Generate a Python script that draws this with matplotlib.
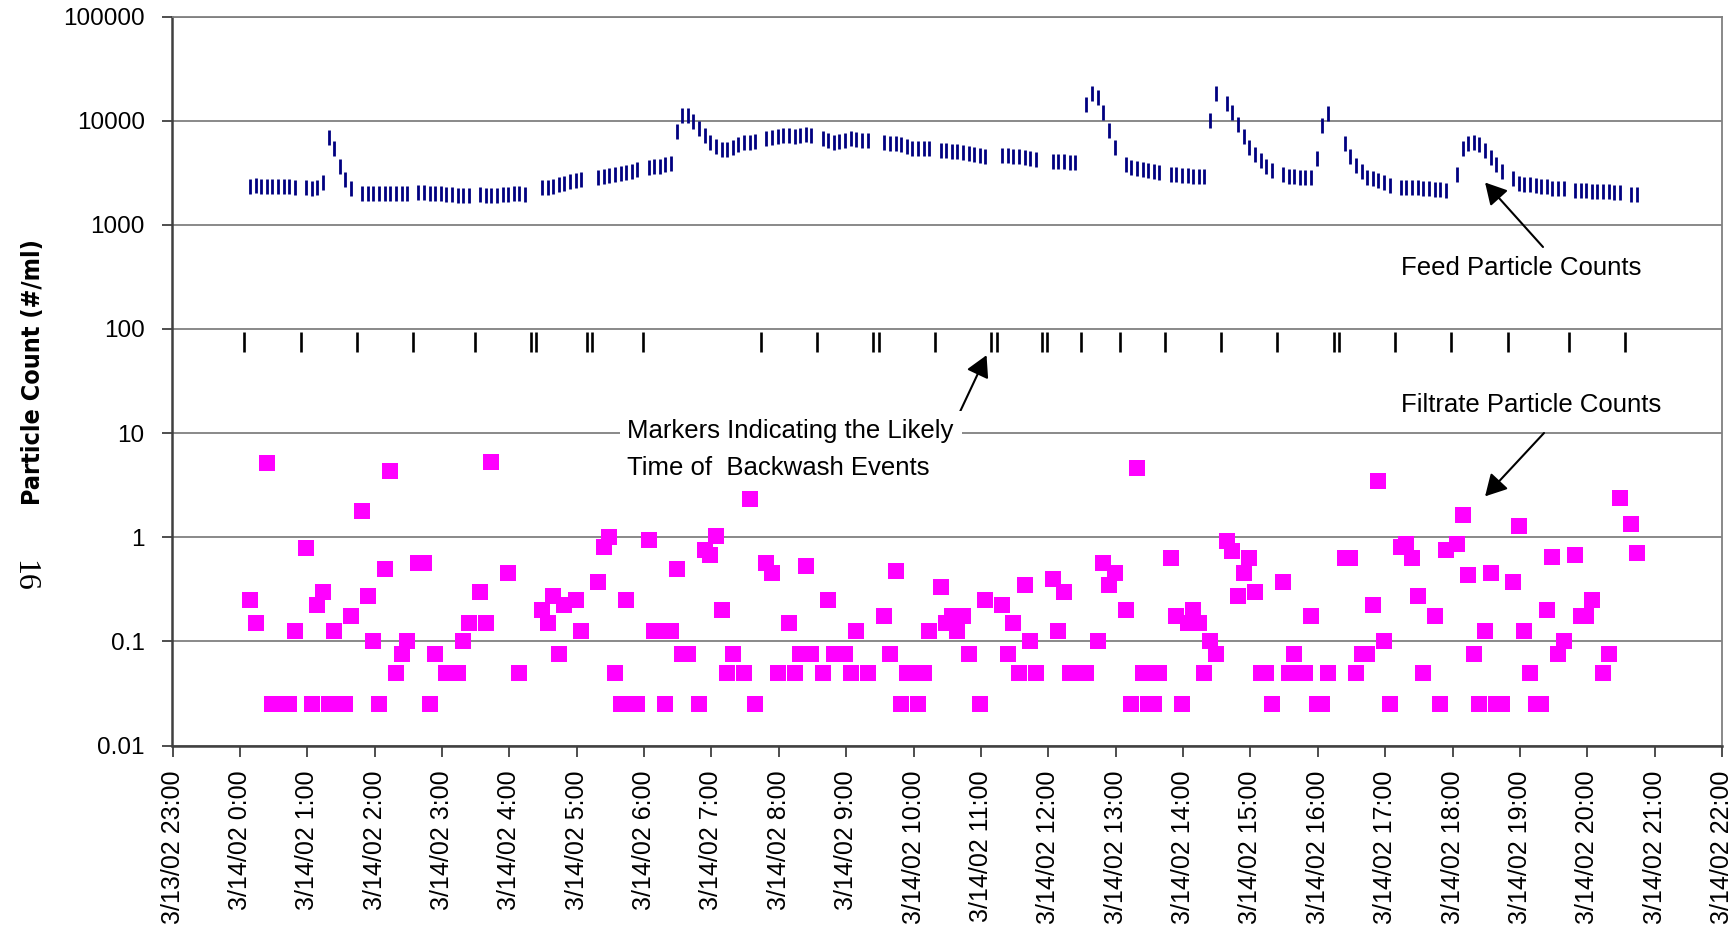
"""
Feed / filtrate particle counts with likely backwash times, 3/14/02.
Output: out.png
"""
import datetime as dt

import matplotlib
matplotlib.use("Agg")
import matplotlib.pyplot as plt
import matplotlib.dates as mdates
import numpy as np
from matplotlib import font_manager

plt.rcParams['font.family'] = ['Liberation Sans', 'DejaVu Sans']

# ---- data (times in minutes after 3/14/02 0:00, 5-min sampling) ----
# feed counts: (start minute, consecutive 5-min values)
feed_segments = [
    (9, [2380, 2400, 2380, 2370, 2360, 2340, 2340, 2350, 2320]),
    (59, [2300, 2280, 2290, 2600, 7030, 5470, 3670, 2740, 2270]),
    (109, [2040, 2020, 2020, 2020, 2020, 2020, 2020, 2020, 2010]),
    (159, [2050, 2050, 2040, 2020, 2010, 1990, 1990, 1950, 1950, 1950]),
    (214, [1960, 1940, 1930, 1945, 1975, 1990, 2020, 2005, 1975]),
    (269, [2310, 2330, 2380, 2480, 2540, 2640, 2700, 2740]),
    (319, [2900, 2960, 3040, 3080, 3130, 3220, 3290, 3440]),
    (364, [3620, 3640, 3680, 3810, 3900, 8020, 11400, 11400, 9960, 8600,
           7260, 6270, 5670, 5350, 5370, 5640, 6040, 6250, 6250, 6380]),
    (469, [6820, 6920, 7100, 7310, 7290, 7180, 7260, 7430, 7310]),
    (519, [6800, 6550, 6310, 6360, 6550, 6770, 6740, 6570, 6570]),
    (574, [6250, 6150, 6150, 5930, 5740, 5490, 5430, 5430, 5460]),
    (624, [5270, 5180, 5150, 5120, 5050, 4900, 4760, 4670, 4550]),
    (679, [4670, 4670, 4630, 4570, 4470, 4350, 4250]),
    (724, [4100, 4100, 4090, 4050, 4040]),
    (754, [14600, 18400, 16900, 12100, 8140, 5600]),
    (789, [3830, 3600, 3490, 3430, 3340, 3260, 3190]),
    (829, [3070, 3070, 3030, 3030, 2930, 2920, 2920, 10200, 18400]),
    (879, [14900, 12000, 9260, 7160, 5610, 4770, 4170, 3690, 3390]),
    (929, [3050, 2960, 2920, 2850, 2850, 2850, 4350, 9060, 11970]),
    (984, [6080, 4600, 3760, 3260, 2890, 2800, 2670, 2590, 2440]),
    (1034, [2320, 2310, 2310, 2300, 2250, 2240, 2210, 2190, 2150]),
    (1084, [3100, 5530, 6110, 6270, 5950, 5210, 4500, 3880, 3300]),
    (1134, [2830, 2550, 2490, 2450, 2410, 2350, 2340, 2280, 2260, 2240]),
    (1189, [2160, 2160, 2150, 2120, 2120, 2120, 2110, 2080, 2050]),
    (1239, [1980, 1980]),
]

# likely backwash events
backwash_min = [4, 54, 104, 154, 209, 259, 264, 309, 314, 359, 464, 514,
                564, 569, 619, 669, 674, 714, 719, 749, 784, 824, 874, 924,
                974, 979, 1029, 1079, 1129, 1184, 1234]
backwash_level = 75

# filtrate counts (zero readings are not shown on the log axis)
filtrate_min = [
    9, 14, 24, 29, 34, 39, 44, 49, 59, 64, 69, 74, 79, 84, 89, 94, 99,
    109, 114, 119, 124, 129, 134, 139, 144, 149, 159, 164, 169, 174, 184,
    189, 194, 199, 204, 214, 219, 224, 239, 249, 269, 274, 279, 284, 289,
    299, 304, 319, 324, 329, 334, 339, 344, 349, 354, 364, 369, 374, 379,
    384, 389, 394, 399, 409, 414, 419, 424, 429, 434, 439, 449, 454, 459,
    469, 474, 479, 489, 494, 499, 504, 509, 519, 524, 529, 534, 539, 544,
    549, 559, 574, 579, 584, 589, 594, 599, 604, 609, 614, 624, 629, 634,
    639, 644, 649, 659, 664, 679, 684, 689, 694, 699, 704, 709, 724, 729,
    734, 739, 744, 754, 764, 769, 774, 779, 789, 794, 799, 804, 809, 814,
    819, 829, 834, 839, 844, 849, 854, 859, 864, 869, 879, 884, 889, 894,
    899, 904, 909, 914, 919, 929, 934, 939, 944, 949, 954, 959, 964, 969,
    984, 989, 994, 999, 1004, 1009, 1014, 1019, 1024, 1034, 1039, 1044,
    1049, 1054, 1064, 1069, 1074, 1084, 1089, 1094, 1099, 1104, 1109, 1114,
    1119, 1124, 1134, 1139, 1144, 1149, 1154, 1159, 1164, 1169, 1174, 1179,
    1189, 1194, 1199, 1204, 1214, 1219, 1229, 1239, 1244,
]
filtrate_val = [
    0.25, 0.15, 5.2, 0.025, 0.025, 0.025, 0.025, 0.125, 0.78, 0.025, 0.225,
    0.30, 0.025, 0.125, 0.025, 0.025, 0.175,
    1.8, 0.275, 0.1, 0.025, 0.5, 4.3, 0.05, 0.075, 0.1, 0.57, 0.57, 0.025,
    0.075, 0.05,
    0.05, 0.05, 0.1, 0.15, 0.30, 0.15, 5.3, 0.45, 0.05, 0.2, 0.15, 0.275,
    0.075, 0.225,
    0.25, 0.125, 0.37, 0.8, 1.0, 0.05, 0.025, 0.25, 0.025, 0.025, 0.95,
    0.125, 0.125, 0.025,
    0.125, 0.5, 0.075, 0.075, 0.025, 0.75, 0.675, 1.03, 0.2, 0.05, 0.075,
    0.05, 2.33, 0.025,
    0.57, 0.45, 0.05, 0.15, 0.05, 0.075, 0.53, 0.075, 0.05, 0.25, 0.075,
    0.075, 0.075, 0.05,
    0.125, 0.05, 0.175, 0.075, 0.47, 0.025, 0.05, 0.05, 0.025, 0.05, 0.125,
    0.33, 0.15, 0.175,
    0.125, 0.175, 0.075, 0.025, 0.25, 0.225, 0.075, 0.15, 0.05, 0.35, 0.1,
    0.05, 0.40, 0.125,
    0.30, 0.05, 0.05, 0.05, 0.1, 0.56, 0.35, 0.45, 0.2, 0.025, 4.6, 0.05,
    0.025, 0.025,
    0.05, 0.63, 0.175, 0.025, 0.15, 0.2, 0.15, 0.05, 0.1, 0.075, 0.93, 0.73,
    0.275, 0.45,
    0.63, 0.30, 0.05, 0.05, 0.025, 0.37, 0.05, 0.075, 0.05, 0.05, 0.175,
    0.025, 0.025, 0.05,
    0.63, 0.63, 0.05, 0.075, 0.075, 0.225, 3.5, 0.1, 0.025, 0.81, 0.87, 0.63,
    0.275, 0.05, 0.175, 0.025, 0.75, 0.86, 1.64, 0.43, 0.075, 0.025, 0.125,
    0.45,
    0.025, 0.025, 0.37, 1.28, 0.125, 0.05, 0.025, 0.025, 0.2, 0.65, 0.075,
    0.1,
    0.675, 0.175, 0.175, 0.25, 0.05, 0.075, 2.39, 1.35, 0.70,
]

y_ticks = [0.01, 0.1, 1, 10, 100, 1000, 10000, 100000]
y_tick_labels = ["0.01", "0.1", "1", "10", "100", "1000", "10000", "100000"]
x_start_min, x_end_min = -60, 1320      # 3/13/02 23:00 .. 3/14/02 22:00

base = dt.datetime(2002, 3, 14)
base_num = mdates.date2num(base)


def to_x(minutes):
    return base_num + np.asarray(minutes, dtype=float) / 1440.0


W, H = 1733, 931


def fx(px):
    return px / W


def fy(py):
    return 1 - py / H


fig = plt.figure(figsize=(W / 100, H / 100), dpi=100)
ax = fig.add_axes([fx(172.5), fy(745.5), (1722 - 172.5) / W, (745.5 - 16.6) / H])

# feed: navy dashes
for start, vals in feed_segments:
    t = start + 5 * np.arange(len(vals))
    ax.plot(to_x(t), vals, ls="none", marker="|", ms=10.8, mew=2.0,
            color="#000080", zorder=3)

# backwash markers
ax.plot(to_x(backwash_min), [backwash_level] * len(backwash_min), ls="none",
        marker="|", ms=14.8, mew=1.9, color="black", zorder=3)

# filtrate: magenta squares
ax.plot(to_x(filtrate_min), filtrate_val, ls="none", marker="s", ms=11.2,
        mew=0, color="#FF00FF", zorder=3)

ax.set_yscale("log")
ax.set_ylim(0.01, 100000)
ax.set_yticks(y_ticks)
ax.set_yticklabels(y_tick_labels)
ax.yaxis.set_minor_locator(matplotlib.ticker.NullLocator())
ax.set_xlim(to_x(x_start_min), to_x(x_end_min))

hour_ticks = np.arange(x_start_min, x_end_min + 1, 60)
hour_dates = [base + dt.timedelta(minutes=int(m)) for m in hour_ticks]
ax.set_xticks(to_x(hour_ticks))
ax.set_xticklabels([f"{d.month}/{d.day}/{d:%y} {d.hour}:{d:%M}" for d in hour_dates])

ax.tick_params(axis="y", direction="out", length=7, width=1.3, pad=13,
               labelsize=17.5, color="#404040")
ax.tick_params(axis="x", direction="out", length=8, width=1.3, pad=10,
               labelsize=18, rotation=90, color="#404040")

ax.grid(axis="y", color="#808080", lw=1.3, zorder=0)
ax.set_axisbelow(True)
for s in ["top", "right"]:
    ax.spines[s].set_color("#808080")
    ax.spines[s].set_linewidth(1.3)
for s in ["left", "bottom"]:
    ax.spines[s].set_color("#404040")
    ax.spines[s].set_linewidth(1.8)

# y label: a narrow bold face if one is installed
label_font = font_manager.FontProperties(family="Liberation Sans", weight="bold", size=16)
for f in font_manager.fontManager.ttflist:
    w = f.weight if isinstance(f.weight, int) else font_manager.weight_dict.get(f.weight, 400)
    if ("Narrow" in f.name or "ondensed" in f.fname) and w >= 600:
        label_font = font_manager.FontProperties(fname=f.fname, size=18)
        break
fig.text(fx(33), fy(372), "Particle Count (#/ml)", rotation=90,
         ha="center", va="center", fontproperties=label_font)

# page number of the source report, printed sideways
fig.text(fx(24), fy(576), "16", rotation=-90, ha="center", va="center",
         family="Liberation Serif", fontsize=23)

# annotations
arrow = dict(arrowstyle="-|>,head_length=0.65,head_width=0.36", color="black",
             lw=1.5, mutation_scale=20, shrinkA=0, shrinkB=0)
note_size = 18.5

fig.text(fx(1400.6), fy(275), "Feed Particle Counts", ha="left",
         va="baseline", fontsize=note_size)
ax.annotate("", xy=(to_x(1109), 2550), xycoords="data",
            xytext=(fx(1543), fy(247)), textcoords="figure fraction",
            arrowprops=arrow)

fig.text(fx(1400.6), fy(411.7), "Filtrate Particle Counts", ha="left",
         va="baseline", fontsize=note_size)
ax.annotate("", xy=(to_x(1109), 2.47), xycoords="data",
            xytext=(fx(1544), fy(433)), textcoords="figure fraction",
            arrowprops=arrow)

fig.text(fx(627.5), fy(438), "Markers Indicating the Likely", ha="left",
         va="baseline", fontsize=note_size,
         bbox=dict(boxstyle="square,pad=0.3", fc="white", ec="none"))
fig.text(fx(627.5), fy(475), "Time of  Backwash Events", ha="left",
         va="baseline", fontsize=note_size)
ax.annotate("", xy=(to_x(665), 56), xycoords="data",
            xytext=(fx(958), fy(416)), textcoords="figure fraction",
            arrowprops=arrow)

fig.savefig("out.png", dpi=100)
plt.close(fig)
print("Saved out.png")
